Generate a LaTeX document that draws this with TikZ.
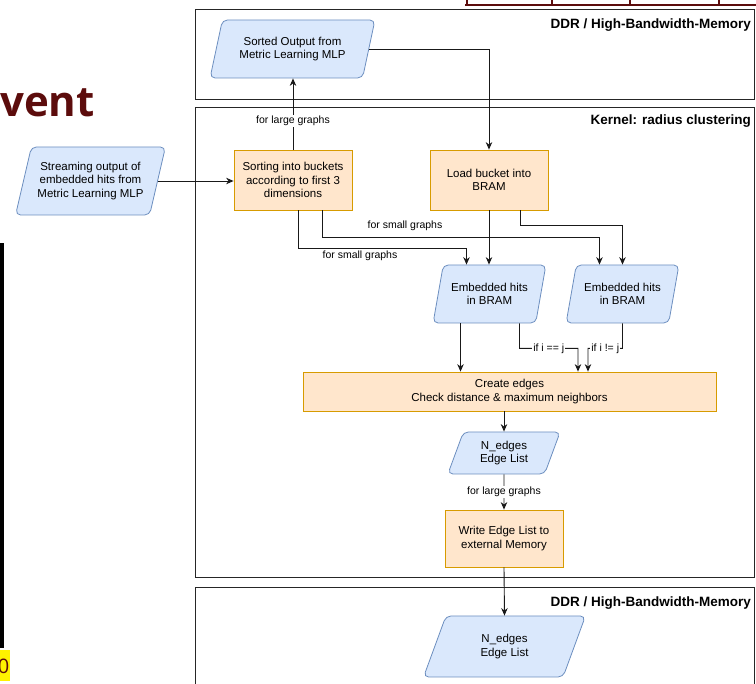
\documentclass[tikz,border=0pt]{standalone}
\usepackage{fontspec}
\setmainfont{Liberation Sans}
\newfontfamily\osfont{Open Sans}
\usetikzlibrary{shapes.geometric,arrows.meta,calc}
\definecolor{bluefill}{HTML}{DAE8FC}
\definecolor{bluebd}{HTML}{6C8EBF}
\definecolor{orfill}{HTML}{FFE6CC}
\definecolor{orbd}{HTML}{D79B00}
\definecolor{darkred}{RGB}{92,12,12}
\tikzset{
  datanode/.style={trapezium, trapezium left angle=70, trapezium right angle=110,
    trapezium stretches=true, draw=bluebd, fill=bluefill, rounded corners=5pt,
    align=center, font=\fontsize{11.5}{13.5}\selectfont, inner sep=1pt, line width=0.8pt},
  procnode/.style={rectangle, draw=orbd, fill=orfill, align=center,
    font=\fontsize{11.5}{13.5}\selectfont, inner sep=1pt, line width=0.8pt},
  lbl/.style={font=\fontsize{10.5}{12}\selectfont, inner sep=1pt},
  arr/.style={-{Stealth[length=7.5pt,width=6.5pt]}, line width=0.9pt, draw=black!90},
  framebox/.style={draw=black!85, line width=1pt},
  titlelbl/.style={font=\bfseries\fontsize{13.5}{15}\selectfont, anchor=east, inner sep=0pt}
}
\begin{document}
\begin{tikzpicture}[x=1pt,y=-1pt]
\useasboundingbox (0,0) rectangle (756,684);
% fragments of the surrounding slide
\node[font=\osfont\bfseries\fontsize{42}{42}\selectfont, text=darkred, anchor=base east, inner sep=0pt] (vent) at (95,117) {vent};
\fill[black] (0,243) rectangle (3.5,648);
\fill[yellow] (0,650) rectangle (10,681);
\node[font=\osfont\fontsize{20}{20}\selectfont, text=darkred, anchor=east, inner sep=0pt] (pg) at (9.5,666) {0};
\draw[darkred, line width=1.2pt] (465,5) -- (760,5);
\foreach \xx in {467,552,630,719} \draw[darkred, line width=1.2pt] (\xx,-2) -- (\xx,5);
% frames
\draw[framebox] (195,10) rectangle (754,100);
\draw[framebox] (195,108) rectangle (754,578);
\draw[framebox] (195,588) rectangle (754,690);
\node[titlelbl] (t1) at (751,25) {DDR / High-Bandwidth-Memory};
\node[titlelbl] (t2) at (751,121) {Kernel: radius clustering};
\node[titlelbl] (t3) at (751,603) {DDR / High-Bandwidth-Memory};
% nodes
\node[datanode, minimum width=150, minimum height=68] (stream) at (90.5,181) {Streaming output of\\embedded hits from\\Metric Learning MLP};
\node[datanode, minimum width=165, minimum height=58] (sorted) at (292.5,49) {Sorted Output from\\Metric Learning MLP};
\node[procnode, minimum width=118, minimum height=60] (sort) at (293,180) {Sorting into buckets\\according to first 3\\dimensions};
\node[procnode, minimum width=118, minimum height=60] (load) at (489,180) {Load bucket into\\BRAM};
\node[datanode, minimum width=113, minimum height=58] (emb1) at (489.5,294) {Embedded hits\\in BRAM};
\node[datanode, minimum width=113, minimum height=58] (emb2) at (622.5,294) {Embedded hits\\in BRAM};
\node[procnode, minimum width=413, minimum height=39] (create) at (509.5,391.5) {Create edges\\Check distance \& maximum neighbors};
\node[datanode, minimum width=113, minimum height=42] (edl1) at (504,453) {N\_edges\\Edge List};
\node[procnode, minimum width=118, minimum height=57] (write) at (504,538.5) {Write Edge List to\\external Memory};
\node[datanode, minimum width=163, minimum height=61] (edl2) at (504.5,646.5) {N\_edges\\Edge List};
% connectors
\draw[arr] (stream.east) -- (stream.east -| sort.west);
\draw[arr] (sort.north) -- node[lbl, fill=white, pos=0.4] (l1) {for large graphs} (sort.north |- sorted.south);
\draw[arr] (sorted.east) -| (load.north);
\draw[arr] (load.south) -- (emb1.north -| load.south);
\draw[arr] ([xshift=31]load.south) -- ++(0,15) -| (emb2.north);
\draw[arr] ([xshift=29]sort.south) -- ++(0,27) -| ([xshift=-23]emb2.north);
\node[lbl] (l2) at (405,226) {for small graphs};
\draw[arr] ([xshift=5]sort.south) -- ++(0,38) -| ([xshift=-23]emb1.north);
\node[lbl] (l3) at (360,256) {for small graphs};
\draw[arr] ([xshift=-29]emb1.south) -- ([xshift=-29]emb1.south |- create.north);
\draw[arr] ([xshift=30]emb1.south) -- ++(0,25) -- node[lbl, fill=white] (l4) {if i == j} ++(58.5,0) -- ([xshift=68.5]create.north);
\draw[arr] (emb2.south) -- ++(0,25) -- node[lbl, fill=white] (l5) {if i != j} ++(-34.5,0) -- ([xshift=78.5]create.north);
\draw[arr] (create.south -| edl1.north) -- (edl1.north);
\draw[arr] (edl1.south) -- node[lbl, fill=white] (l6) {for large graphs} (write.north);
\draw[arr] (write.south) -- (edl2.north);
\end{tikzpicture}
\end{document}
